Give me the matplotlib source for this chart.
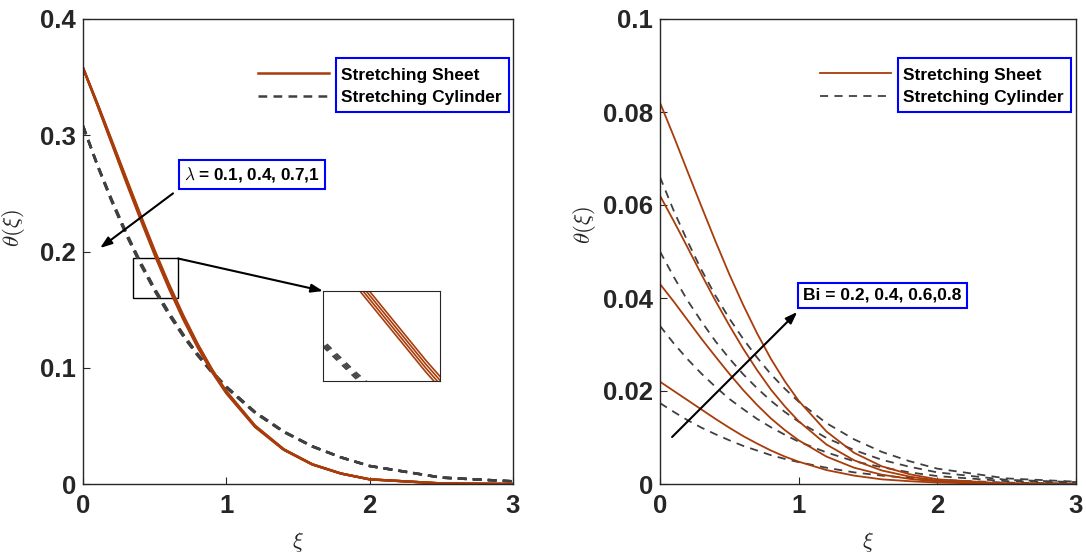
import matplotlib
matplotlib.use("Agg")
import matplotlib.pyplot as plt
from matplotlib.lines import Line2D
from matplotlib.patches import Rectangle
from matplotlib.transforms import Bbox

plt.rcParams['font.family'] = ['Liberation Sans', 'DejaVu Sans']
plt.rcParams['mathtext.fontset'] = 'cm'

xi = [0, 0.1, 0.2, 0.3, 0.4, 0.5, 0.6, 0.7, 0.8, 0.9, 1.0, 1.2, 1.4, 1.6, 1.8, 2.0, 2.5, 3.0]

# left panel: lambda = 0.1, 0.4, 0.7, 1
sheet_lam01 = [0.358, 0.3260, 0.2930, 0.2600, 0.2280, 0.1970, 0.1680, 0.1414, 0.1175, 0.0963, 0.0780, 0.0491, 0.0294, 0.0167, 0.0090, 0.0040, 0.0005, 0.0]
sheet_lam04 = [0.358, 0.3265, 0.2939, 0.2612, 0.2293, 0.1983, 0.1693, 0.1426, 0.1185, 0.0971, 0.0786, 0.0495, 0.0296, 0.0168, 0.0090, 0.0040, 0.0005, 0.0]
sheet_lam07 = [0.358, 0.3270, 0.2948, 0.2624, 0.2306, 0.1996, 0.1706, 0.1438, 0.1195, 0.0979, 0.0792, 0.0499, 0.0298, 0.0169, 0.0090, 0.0040, 0.0005, 0.0]
sheet_lam10 = [0.358, 0.3275, 0.2957, 0.2636, 0.2319, 0.2009, 0.1719, 0.1450, 0.1205, 0.0987, 0.0798, 0.0503, 0.0300, 0.0170, 0.0090, 0.0040, 0.0005, 0.0]

cyl_lam01 = [0.308, 0.2740, 0.2430, 0.2147, 0.1891, 0.1661, 0.1454, 0.1269, 0.1104, 0.0957, 0.0827, 0.0612, 0.0447, 0.0322, 0.0229, 0.0155, 0.0055, 0.0023]
cyl_lam04 = [0.308, 0.2743, 0.2436, 0.2154, 0.1898, 0.1668, 0.1461, 0.1275, 0.1109, 0.0961, 0.0831, 0.0615, 0.0449, 0.0323, 0.0229, 0.0155, 0.0055, 0.0023]
cyl_lam07 = [0.308, 0.2746, 0.2442, 0.2161, 0.1905, 0.1675, 0.1468, 0.1281, 0.1114, 0.0965, 0.0835, 0.0618, 0.0451, 0.0324, 0.0229, 0.0155, 0.0055, 0.0023]
cyl_lam10 = [0.308, 0.2749, 0.2448, 0.2168, 0.1912, 0.1682, 0.1475, 0.1287, 0.1119, 0.0969, 0.0839, 0.0621, 0.0453, 0.0325, 0.0229, 0.0155, 0.0055, 0.0023]

# right panel: Bi = 0.2, 0.4, 0.6, 0.8
sheet_bi02 = [0.022, 0.0200, 0.0180, 0.0160, 0.0140, 0.0121, 0.0103, 0.0087, 0.0072, 0.0059, 0.0048, 0.0030, 0.0018, 0.0010, 0.0006, 0.0003, 0.0000, 0.0]
sheet_bi04 = [0.043, 0.0392, 0.0352, 0.0312, 0.0274, 0.0237, 0.0202, 0.0170, 0.0141, 0.0116, 0.0094, 0.0059, 0.0035, 0.0020, 0.0011, 0.0005, 0.0001, 0.0]
sheet_bi06 = [0.062, 0.0565, 0.0508, 0.0450, 0.0394, 0.0341, 0.0291, 0.0245, 0.0203, 0.0167, 0.0135, 0.0085, 0.0051, 0.0029, 0.0016, 0.0007, 0.0001, 0.0]
sheet_bi08 = [0.082, 0.0747, 0.0671, 0.0596, 0.0522, 0.0451, 0.0385, 0.0324, 0.0269, 0.0221, 0.0179, 0.0113, 0.0067, 0.0038, 0.0021, 0.0010, 0.0001, 0.0]

cyl_bi02 = [0.0174, 0.0155, 0.0137, 0.0121, 0.0107, 0.0094, 0.0082, 0.0072, 0.0062, 0.0054, 0.0047, 0.0035, 0.0025, 0.0018, 0.0013, 0.0009, 0.0003, 0.0001]
cyl_bi04 = [0.034, 0.0302, 0.0268, 0.0237, 0.0209, 0.0183, 0.0161, 0.0140, 0.0122, 0.0106, 0.0091, 0.0068, 0.0049, 0.0036, 0.0025, 0.0017, 0.0006, 0.0003]
cyl_bi06 = [0.050, 0.0445, 0.0394, 0.0349, 0.0307, 0.0270, 0.0236, 0.0206, 0.0179, 0.0155, 0.0134, 0.0099, 0.0073, 0.0052, 0.0037, 0.0025, 0.0009, 0.0004]
cyl_bi08 = [0.066, 0.0587, 0.0521, 0.0460, 0.0405, 0.0356, 0.0312, 0.0272, 0.0236, 0.0205, 0.0177, 0.0131, 0.0096, 0.0069, 0.0049, 0.0033, 0.0012, 0.0005]

sheet_left = [sheet_lam01, sheet_lam04, sheet_lam07, sheet_lam10]
cyl_left = [cyl_lam01, cyl_lam04, cyl_lam07, cyl_lam10]
sheet_right = [sheet_bi02, sheet_bi04, sheet_bi06, sheet_bi08]
cyl_right = [cyl_bi02, cyl_bi04, cyl_bi06, cyl_bi08]

xticks = [0, 1, 2, 3]
yticks_left = [0, 0.1, 0.2, 0.3, 0.4]
yticklabels_left = ['0', '0.1', '0.2', '0.3', '0.4']
yticks_right = [0, 0.02, 0.04, 0.06, 0.08, 0.1]
yticklabels_right = ['0', '0.02', '0.04', '0.06', '0.08', '0.1']
legend_labels = ['Stretching Sheet', 'Stretching Cylinder']

sheet_color = '#A83C0A'
cyl_color = '#404040'
axis_color = '#262626'

fig = plt.figure(figsize=(10.86, 5.57), dpi=100)
axL = fig.add_axes([83/1086, 73/557, 430/1086, 465/557])
axR = fig.add_axes([660/1086, 73/557, 416/1086, 465/557])


def style_axes(ax, yt, ytl, ylim):
    ax.set_xlim(0, 3)
    ax.set_ylim(*ylim)
    ax.set_xticks(xticks)
    ax.set_xticklabels([str(t) for t in xticks])
    ax.set_yticks(yt)
    ax.set_yticklabels(ytl)
    ax.tick_params(direction='in', length=5, width=0.8, color=axis_color,
                   labelcolor=axis_color, labelsize=18.5)
    ax.tick_params(axis='x', pad=7)
    ax.tick_params(axis='y', pad=5)
    for lab in ax.get_xticklabels() + ax.get_yticklabels():
        lab.set_fontweight('bold')
    for s in ax.spines.values():
        s.set_color(axis_color)
        s.set_linewidth(1.0)
    ax.set_xlabel(r'$\xi$', fontsize=16, color=axis_color)
    ax.set_ylabel(r'$\theta(\xi)$', fontsize=16.5, color=axis_color)


def boxed_legend(ax, lw, dashes, anchor):
    handles = [Line2D([], [], color=sheet_color, lw=lw),
               Line2D([], [], color=cyl_color, lw=lw, dashes=dashes)]
    leg = ax.legend(handles, legend_labels, loc='upper left', bbox_to_anchor=anchor,
                    frameon=False, handlelength=4.1, handletextpad=0.7,
                    labelspacing=0.43, borderpad=0, borderaxespad=0,
                    prop={'size': 12.5, 'weight': 'bold'})
    return leg


# left panel
for ys in cyl_left:
    axL.plot(xi, ys, color=cyl_color, lw=1.8, dashes=(3.5, 2.5))
for ys in sheet_left:
    axL.plot(xi, ys, color=sheet_color, lw=1.7)
style_axes(axL, yticks_left, yticklabels_left, (0, 0.4))
axL.yaxis.set_label_coords(-0.13, 0.55)
axL.xaxis.set_label_coords(0.5, -0.10)
legL = boxed_legend(axL, 1.8, (3.5, 2.5), (0.407, 0.896))

axL.text(0.705, 0.266, r'$\lambda$ = 0.1, 0.4, 0.7,1', fontsize=12.3, fontweight='bold',
         va='center', ha='left', color='black',
         bbox=dict(boxstyle='square,pad=0.3', fc='white', ec='#0000FF', lw=1.5))
axL.annotate('', xy=(0.119, 0.203), xytext=(0.628, 0.250),
             arrowprops=dict(arrowstyle='-|>,head_length=0.7,head_width=0.25', color='black',
                             lw=1.5, shrinkA=0, shrinkB=0))

# zoom rectangle and inset
axL.add_patch(Rectangle((0.35, 0.16), 0.31, 0.034, fill=False, ec='black', lw=1.0))
axL.annotate('', xy=(1.675, 0.166), xytext=(0.663, 0.194),
             arrowprops=dict(arrowstyle='-|>,head_length=0.7,head_width=0.25', color='black',
                             lw=1.5, shrinkA=0, shrinkB=0))
axIn = fig.add_axes([323/1086, (557-381)/557, 117/1086, 90/557])
for ys in cyl_left:
    axIn.plot(xi, ys, color=cyl_color, lw=1.2, dashes=(4, 4))
for ys in sheet_left:
    axIn.plot(xi, ys, color=sheet_color, lw=1.2)
axIn.set_xlim(0.455, 0.62)
axIn.set_ylim(0.165, 0.195)
axIn.set_xticks([])
axIn.set_yticks([])
for s in axIn.spines.values():
    s.set_color(axis_color)
    s.set_linewidth(0.8)

# right panel
for ys in cyl_right:
    axR.plot(xi, ys, color=cyl_color, lw=1.3, dashes=(4.5, 3.5))
for ys in sheet_right:
    axR.plot(xi, ys, color=sheet_color, lw=1.3)
style_axes(axR, yticks_right, yticklabels_right, (0, 0.1))
axR.yaxis.set_label_coords(-0.15, 0.557)
axR.xaxis.set_label_coords(0.5, -0.10)
legR = boxed_legend(axR, 1.3, (4.5, 3.5), (0.385, 0.896))

axR.text(1.031, 0.0406, 'Bi = 0.2, 0.4, 0.6,0.8', fontsize=12.5, fontweight='bold',
         va='center', ha='left', color='black',
         bbox=dict(boxstyle='square,pad=0.3', fc='white', ec='#0000FF', lw=1.5))
axR.annotate('', xy=(0.99, 0.037), xytext=(0.087, 0.0101),
             arrowprops=dict(arrowstyle='-|>,head_length=0.7,head_width=0.25', color='black',
                             lw=1.5, shrinkA=0, shrinkB=0))

# blue frame around the legend texts only
fig.canvas.draw()
renderer = fig.canvas.get_renderer()
inv = fig.transFigure.inverted()
for leg in (legL, legR):
    bb = Bbox.union([t.get_window_extent(renderer) for t in leg.get_texts()])
    x0, y0 = inv.transform((bb.x0 - 5, bb.y0 - 7))
    x1, y1 = inv.transform((bb.x1 + 7, bb.y1 + 10))
    fig.add_artist(Rectangle((x0, y0), x1 - x0, y1 - y0, fill=False, ec='#0000FF',
                             lw=1.5, transform=fig.transFigure))

fig.savefig('out.png', dpi=100)
